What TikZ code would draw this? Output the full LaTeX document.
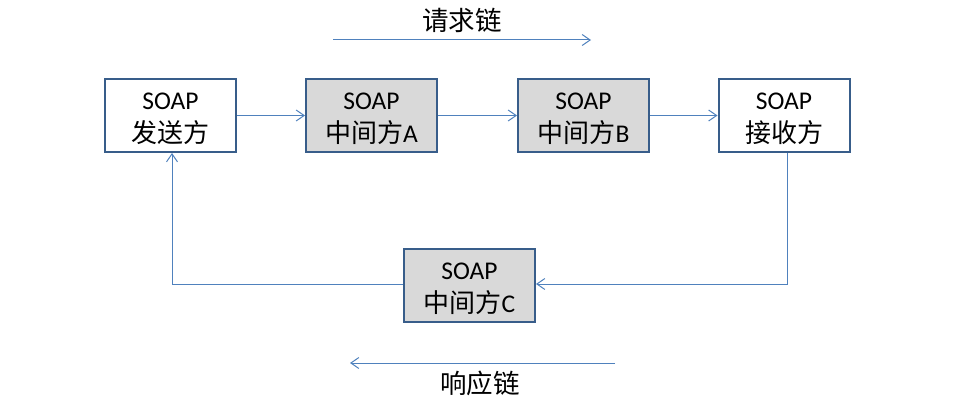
\documentclass[tikz,border=0pt]{standalone}
\usepackage{fontspec}
\setmainfont{Carlito}
\newfontfamily\cjk{Noto Sans CJK SC}
\usetikzlibrary{arrows.meta}
\definecolor{boxline}{RGB}{56,93,138}
\definecolor{boxgray}{RGB}{217,217,217}
\definecolor{conn}{RGB}{79,129,189}
\newcommand{\cj}[1]{{\cjk\fontsize{26}{33}\selectfont #1}}
\newcommand{\topline}{\rule{0pt}{23pt}SOAP}
\begin{document}
\begin{tikzpicture}[x=1pt,y=-1pt,
  soapbox/.style={draw=boxline, line width=2pt, minimum width=131pt, minimum height=73pt,
    inner sep=0pt, align=center, font=\fontsize{25.5}{33}\selectfont},
  graybox/.style={soapbox, fill=boxgray},
  whitebox/.style={soapbox, fill=white},
  conn/.style={draw=conn, line width=1pt, -{Straight Barb[length=8pt,width=11pt]}},
  lbl/.style={font=\cjk\fontsize{26.5}{30}\selectfont, inner sep=0pt}]
\useasboundingbox (0,0) rectangle (972,404);
\node[whitebox] (s) at (170.5,115.5) {\topline\\\cj{发送方}};
\node[graybox] (a) at (371.5,115.5) {\topline\\\cj{中间方}A};
\node[graybox] (b) at (583.5,115.5) {\topline\\\cj{中间方}B};
\node[whitebox] (r) at (784,115.5) {\topline\\\cj{接收方}};
\node[graybox] (c) at (469.5,285.5) {\topline\\\cj{中间方}C};
\draw[conn] (s) -- (a);
\draw[conn] (a) -- (b);
\draw[conn] (b) -- (r);
\draw[conn] ([xshift=3pt]r.south) |- ([yshift=1.5pt]c.east);
\draw[conn] ([yshift=1.5pt]c.west) -| ([xshift=1.5pt]s.south);
\coordinate (q1) at (333,40);
\coordinate (q2) at (591,40);
\draw[conn] (q1) -- (q2);
\node[lbl] (qt) at (462,20) {请求链};
\coordinate (p1) at (615,363);
\coordinate (p2) at (350,363);
\draw[conn] (p1) -- (p2);
\node[lbl] (pt) at (480,383) {响应链};
\end{tikzpicture}
\end{document}
